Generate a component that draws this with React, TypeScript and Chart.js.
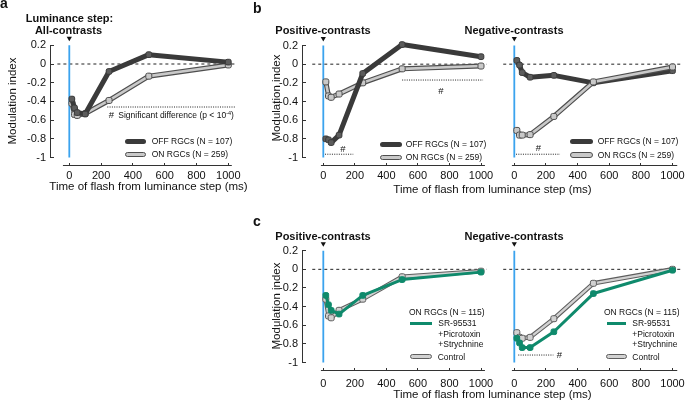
import React, { useEffect, useRef } from 'react';
import { Chart, registerables } from 'chart.js';
Chart.register(...registerables);

const W = 685;
const H = 404;
const FONT = "'Liberation Sans', Arial, Helvetica, sans-serif";

// ---- data ----
const TIMES = [16, 33, 50, 100, 250, 500, 1000];
const X_TICKS = [0, 200, 400, 600, 800, 1000];
const Y_TICKS = [0.2, 0, -0.2, -0.4, -0.6, -0.8, -1];

const A_OFF = [-0.375, -0.47, -0.52, -0.535, -0.08, 0.1, 0.02];
const A_ON = [-0.42, -0.54, -0.55, -0.53, -0.39, -0.13, -0.01];
const BP_OFF = [-0.8, -0.81, -0.84, -0.76, -0.1, 0.21, 0.08];
const BP_ON = [-0.19, -0.34, -0.355, -0.32, -0.2, -0.05, -0.02];
const BN_OFF = [0.04, -0.01, -0.09, -0.14, -0.12, -0.2, -0.07];
const BN_ON = [-0.71, -0.76, -0.76, -0.755, -0.56, -0.19, -0.03];
const CP_SR = [-0.28, -0.38, -0.44, -0.48, -0.28, -0.11, -0.03];
const CP_CTRL = [-0.32, -0.5, -0.52, -0.44, -0.32, -0.08, -0.02];
const CN_SR = [-0.74, -0.79, -0.84, -0.84, -0.67, -0.26, -0.01];
const CN_CTRL = [-0.68, -0.73, -0.74, -0.73, -0.53, -0.15, 0.0];

// significance bars: [xStart, xEnd, y]
const SIG_A = [[239, 1046, -0.46]];
const SIG_BP = [[11, 190, -0.965], [500, 1013, -0.17]];
const SIG_BN = [[11, 289, -0.965]];
const SIG_CP: number[][] = [];
const SIG_CN = [[25, 247, -0.92]];

const OFF_LINE = '#3a3a3a';
const OFF_PT = '#5c5c5c';
const ON_EDGE = '#4e4e4e';
const ON_FILL = '#c9c9c9';
const CT_EDGE = '#5e5e5e';
const CT_FILL = '#d2d2d2';
const GREEN = '#0f8a6c';
const BLUE = '#3ba3ee';

const pts = (xs: number[], ys: number[]) => xs.map((x, i) => ({ x, y: ys[i] }));

function solid(ys: number[], color: string, width: number, ptFill: string, order: number) {
  return {
    data: pts(TIMES, ys), showLine: true, borderColor: color, borderWidth: width,
    pointStyle: 'rectRounded', pointRadius: 3.3, pointBackgroundColor: ptFill,
    pointBorderColor: color, pointBorderWidth: 1, borderJoinStyle: 'round', borderCapStyle: 'round',
    order, clip: false,
  };
}
function outlined(ys: number[], edge: string, fill: string, order: number, wOut = 5, wIn = 2.6) {
  return [
    { data: pts(TIMES, ys), showLine: true, borderColor: edge, borderWidth: wOut, pointRadius: 0,
      borderJoinStyle: 'round', borderCapStyle: 'round', order: order + 0.5, clip: false },
    { data: pts(TIMES, ys), showLine: true, borderColor: fill, borderWidth: wIn,
      pointStyle: 'rectRounded', pointRadius: 3.5, pointBackgroundColor: fill, pointBorderColor: edge,
      pointBorderWidth: 1, borderJoinStyle: 'round', borderCapStyle: 'round', order, clip: false },
  ];
}

type Panel = {
  x0: number; x1000: number; y02: number; ym1: number;
  area: { l: number; r: number; t: number; b: number };
  showY: boolean; spine: [number, number]; dash: [number, number];
  xPad: number; sig: number[][]; series: any[];
};

const YW = 40;
const XH = 30;

const spinePlugin = {
  id: 'spines',
  beforeDatasetsDraw(chart: any, _a: any, opts: any) {
    const { ctx, chartArea } = chart;
    const xs = chart.scales.x;
    const ys = chart.scales.y;
    ctx.save();
    ctx.strokeStyle = '#333';
    ctx.lineWidth = 1;
    ctx.beginPath();
    if (opts.showY) {
      const x = Math.round(chartArea.left) + 0.5;
      ctx.moveTo(x, ys.getPixelForValue(0.2));
      ctx.lineTo(x, ys.getPixelForValue(-1));
    }
    const y = Math.round(chartArea.bottom) - 0.5;
    ctx.moveTo(xs.getPixelForValue(opts.from), y);
    ctx.lineTo(xs.getPixelForValue(opts.to), y);
    ctx.stroke();
    ctx.restore();
  },
};

function buildConfig(p: Panel) {
  const kx = (p.x1000 - p.x0) / 1000;
  const xMin = (p.area.l - p.x0) / kx;
  const xMax = (p.area.r - p.x0) / kx;
  const ky = (p.ym1 - p.y02) / 1.2;
  const yMax = 0.2 + (p.y02 - p.area.t) / ky;
  const yMin = -1 - (p.area.b - p.ym1) / ky;
  const arrowY = 0.2 + 7 / ky;
  const yw = p.showY ? YW : 0;

  const datasets: any[] = [
    { data: [{ x: p.dash[0], y: 0 }, { x: p.dash[1], y: 0 }], showLine: true, borderColor: '#222',
      borderWidth: 1, borderDash: [3, 3], pointRadius: 0, order: 50, clip: false },
    { data: [{ x: 0, y: 0.2 }, { x: 0, y: -1 }], showLine: true, borderColor: BLUE,
      borderWidth: 1.8, pointRadius: 0, order: 40, clip: false },
    { data: [{ x: 0, y: arrowY }], showLine: false, pointStyle: 'triangle', rotation: 180,
      pointRadius: 3, pointBackgroundColor: '#111', pointBorderColor: '#111', pointBorderWidth: 0,
      order: 40, clip: false },
    ...p.sig.map((s) => ({
      data: [{ x: s[0], y: s[2] }, { x: s[1], y: s[2] }], showLine: true, borderColor: '#222',
      borderWidth: 1, borderDash: [1, 1.3], pointRadius: 0, order: 45, clip: false,
    })),
    ...p.series,
  ];

  return {
    type: 'scatter',
    data: { datasets },
    options: {
      responsive: false,
      animation: false,
      events: [],
      devicePixelRatio: 1,
      layout: {
        autoPadding: false,
        padding: {
          left: p.area.l - yw,
          right: W - p.area.r,
          top: p.area.t,
          bottom: H - p.area.b - XH,
        },
      },
      plugins: {
        legend: { display: false },
        tooltip: { enabled: false },
        spines: { showY: p.showY, from: p.spine[0], to: p.spine[1] },
      },
      scales: {
        x: {
          type: 'linear', min: xMin, max: xMax, bounds: 'data',
          afterBuildTicks: (s: any) => { s.ticks = X_TICKS.map((v) => ({ value: v })); },
          afterFit: (s: any) => { s.height = XH; s.paddingLeft = 0; s.paddingRight = 0; },
          grid: { drawOnChartArea: false, drawTicks: true, tickLength: -3, color: '#333', lineWidth: 1 },
          border: { display: false },
          ticks: { padding: p.xPad, autoSkip: false, maxRotation: 0, color: '#111',
            font: { family: FONT, size: 11 }, callback: (v: any) => String(v) },
        },
        y: {
          type: 'linear', min: yMin, max: yMax, bounds: 'data', display: p.showY,
          afterBuildTicks: (s: any) => { s.ticks = Y_TICKS.map((v) => ({ value: v })); },
          afterFit: (s: any) => { s.width = yw; s.paddingTop = 0; s.paddingBottom = 0; },
          grid: { drawOnChartArea: false, drawTicks: true, tickLength: -4, color: '#333', lineWidth: 1 },
          border: { display: false },
          ticks: { padding: 8, autoSkip: false, color: '#111', font: { family: FONT, size: 11 },
            callback: (v: any) => { const n = Math.round(Number(v) * 10) / 10; return n === 0 ? '0' : String(n); } },
        },
      },
    },
    plugins: [spinePlugin],
  };
}

const PANELS: Panel[] = [
  { // a
    x0: 69.3, x1000: 228.3, y02: 45.3, ym1: 157.5, area: { l: 50, r: 240, t: 30, b: 166 },
    showY: true, spine: [-40, 1022], dash: [-75, 1042], xPad: 6, sig: SIG_A,
    series: [solid(A_OFF, OFF_LINE, 5, OFF_PT, 1), ...outlined(A_ON, ON_EDGE, ON_FILL, 3)],
  },
  { // b positive
    x0: 323.3, x1000: 481, y02: 45.5, ym1: 157.5, area: { l: 302, r: 490, t: 30, b: 166 },
    showY: true, spine: [-15, 1025], dash: [-70, 1035], xPad: 6, sig: SIG_BP,
    series: [solid(BP_OFF, OFF_LINE, 5, OFF_PT, 1), ...outlined(BP_ON, ON_EDGE, ON_FILL, 3)],
  },
  { // b negative
    x0: 514.3, x1000: 672.5, y02: 45.5, ym1: 157.5, area: { l: 505, r: 681, t: 30, b: 166 },
    showY: false, spine: [-15, 1030], dash: [-70, 1060], xPad: 6, sig: SIG_BN,
    series: [solid(BN_OFF, OFF_LINE, 5, OFF_PT, 3), ...outlined(BN_ON, ON_EDGE, ON_FILL, 1)],
  },
  { // c positive
    x0: 323.3, x1000: 481, y02: 250.7, ym1: 362.5, area: { l: 302, r: 490, t: 235, b: 371 },
    showY: true, spine: [-15, 1025], dash: [-70, 1035], xPad: 9, sig: SIG_CP,
    series: [...outlined(CP_CTRL, CT_EDGE, CT_FILL, 3, 4.5, 2.4), solid(CP_SR, GREEN, 3, GREEN, 1)],
  },
  { // c negative
    x0: 514.3, x1000: 672.5, y02: 250.7, ym1: 362.5, area: { l: 505, r: 681, t: 235, b: 371 },
    showY: false, spine: [-15, 1030], dash: [-70, 1060], xPad: 9, sig: SIG_CN,
    series: [...outlined(CN_CTRL, CT_EDGE, CT_FILL, 3, 4.5, 2.4), solid(CN_SR, GREEN, 3, GREEN, 1)],
  },
];

function PanelChart({ cfg }: { cfg: Panel }) {
  const ref = useRef<HTMLCanvasElement>(null);
  useEffect(() => {
    const chart = new Chart(ref.current as HTMLCanvasElement, buildConfig(cfg) as any);
    return () => chart.destroy();
  }, []);
  return (
    <canvas ref={ref} width={W} height={H}
      style={{ position: 'absolute', left: 0, top: 0, width: W, height: H }} />
  );
}

// text placed by baseline
function T(props: { x: number; y: number; size?: number; bold?: boolean; center?: boolean; children: any }) {
  const size = props.size ?? 8.5;
  return (
    <div style={{
      position: 'absolute', left: props.x, top: props.y - 0.8465 * size, fontSize: size,
      lineHeight: `${size}px`, fontFamily: FONT, fontWeight: props.bold ? 700 : 400, color: '#111',
      whiteSpace: 'nowrap', transform: props.center ? 'translateX(-50%)' : undefined,
    }}>{props.children}</div>
  );
}

function YTitle({ cx, cy }: { cx: number; cy: number }) {
  return (
    <div style={{
      position: 'absolute', left: cx, top: cy, fontSize: 11.5, lineHeight: '11.5px', fontFamily: FONT,
      color: '#111', whiteSpace: 'nowrap', transform: 'translate(-50%, -50%) rotate(-90deg)',
    }}>Modulation index</div>
  );
}

function Sample({ x1, x2, cy, kind }: { x1: number; x2: number; cy: number; kind: string }) {
  let st: any = {};
  if (kind === 'off') st = { height: 5, background: OFF_LINE, borderRadius: 2.5 };
  else if (kind === 'on') st = { height: 5.5, background: ON_FILL, border: `1px solid ${ON_EDGE}`, borderRadius: 3 };
  else if (kind === 'ctrl') st = { height: 5.5, background: CT_FILL, border: `1px solid ${CT_EDGE}`, borderRadius: 3 };
  else st = { height: 3, background: GREEN };
  return (
    <div style={{ position: 'absolute', left: x1, width: x2 - x1, top: cy - st.height / 2,
      boxSizing: 'border-box', ...st }} />
  );
}

const XTITLE = 'Time of flash from luminance step (ms)';

export default function App() {
  return (
    <div style={{ position: 'fixed', left: 0, top: 0, width: W, height: H, background: '#fff', overflow: 'hidden' }}>
      {PANELS.map((p, i) => <PanelChart key={i} cfg={p} />)}

      <T x={0} y={8.3} size={14} bold>a</T>
      <T x={253} y={13.3} size={14} bold>b</T>
      <T x={253} y={226} size={14} bold>c</T>

      <T x={69.5} y={22} size={11} bold center>Luminance step:</T>
      <T x={68.5} y={34.3} size={11} bold center>All-contrasts</T>
      <T x={323} y={34} size={11} bold center>Positive-contrasts</T>
      <T x={514} y={34} size={11} bold center>Negative-contrasts</T>
      <T x={323} y={240} size={11} bold center>Positive-contrasts</T>
      <T x={514} y={240} size={11} bold center>Negative-contrasts</T>

      <YTitle cx={13} cy={100.7} />
      <YTitle cx={276.7} cy={98} />
      <YTitle cx={276.7} cy={306} />

      <T x={148.5} y={190.5} size={11.5} center>{XTITLE}</T>
      <T x={492.5} y={193.5} size={11.5} center>{XTITLE}</T>
      <T x={492.5} y={399} size={11.5} center>{XTITLE}</T>

      {/* significance marks */}
      <T x={111.5} y={118.3} size={9.5} center>#</T>
      <T x={118.3} y={118} size={8.5}>Significant difference (p &lt; 10<sup style={{ fontSize: 5.5, verticalAlign: 'top', lineHeight: '5px' }}>-4</sup>)</T>
      <T x={343} y={151.6} size={9.5} center>#</T>
      <T x={441} y={94} size={9.5} center>#</T>
      <T x={538.5} y={151} size={9.5} center>#</T>
      <T x={559.3} y={358.3} size={9.5} center>#</T>

      {/* legend a */}
      <Sample x1={124.5} x2={145.5} cy={141} kind="off" />
      <T x={151.7} y={144} size={8.5}>OFF RGCs (N = 107)</T>
      <Sample x1={124.5} x2={145.5} cy={154.3} kind="on" />
      <T x={151.7} y={157.3} size={8.5}>ON RGCs (N = 259)</T>

      {/* legend b left */}
      <Sample x1={380} x2={401.5} cy={144} kind="off" />
      <T x={405.7} y={147} size={8.5}>OFF RGCs (N = 107)</T>
      <Sample x1={380} x2={401.5} cy={157.5} kind="on" />
      <T x={405.7} y={160.5} size={8.5}>ON RGCs (N = 259)</T>

      {/* legend b right */}
      <Sample x1={570} x2={593} cy={141} kind="off" />
      <T x={597.7} y={144} size={8.5}>OFF RGCs (N = 107)</T>
      <Sample x1={570} x2={593} cy={155} kind="on" />
      <T x={597.7} y={158} size={8.5}>ON RGCs (N = 259)</T>

      {/* legend c left */}
      <T x={409} y={315.3} size={8.5}>ON RGCs (N = 115)</T>
      <Sample x1={410} x2={431.7} cy={323.3} kind="green" />
      <T x={438.3} y={326.3} size={8.5}>SR-95531</T>
      <T x={438.3} y={337} size={8.5}>+Picrotoxin</T>
      <T x={438.3} y={347.3} size={8.5}>+Strychnine</T>
      <Sample x1={410} x2={431.7} cy={356.7} kind="ctrl" />
      <T x={437.7} y={359.7} size={8.5}>Control</T>

      {/* legend c right */}
      <T x={604} y={315.3} size={8.5}>ON RGCs (N = 115)</T>
      <Sample x1={606.7} x2={625.7} cy={323.3} kind="green" />
      <T x={632.3} y={326.3} size={8.5}>SR-95531</T>
      <T x={632.3} y={337} size={8.5}>+Picrotoxin</T>
      <T x={632.3} y={347.3} size={8.5}>+Strychnine</T>
      <Sample x1={605.7} x2={626.7} cy={356.7} kind="ctrl" />
      <T x={632.3} y={359.7} size={8.5}>Control</T>
    </div>
  );
}
